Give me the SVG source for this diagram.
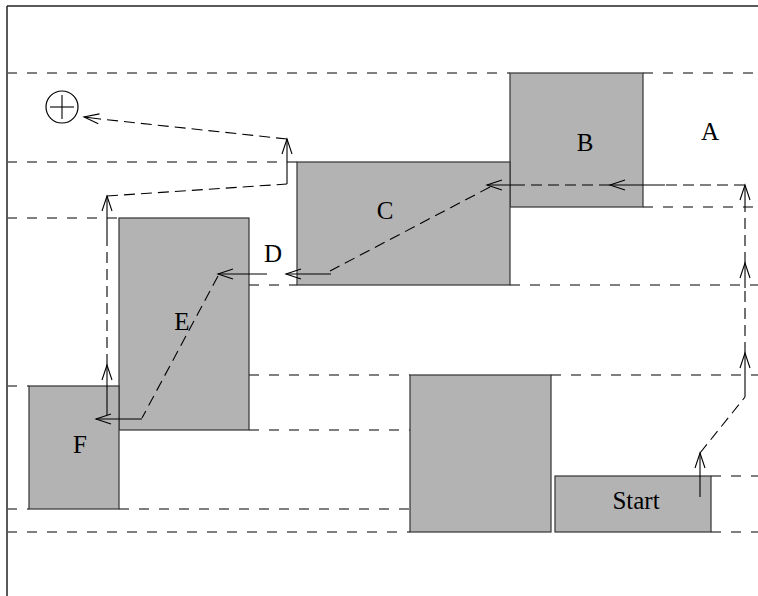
<svg xmlns="http://www.w3.org/2000/svg" width="758" height="596" viewBox="0 0 758 596">
<defs>
<marker id="ah" markerUnits="userSpaceOnUse" markerWidth="20" markerHeight="14" viewBox="-17 -7 20 14" refX="0" refY="0" orient="auto" overflow="visible">
<path d="M-15,-5 L0,0 L-15,5" fill="none" stroke="#000" stroke-width="1.1"/>
</marker>
<style>
.frame{stroke:#222;stroke-width:1.5;fill:none}
.guide{stroke:#555;stroke-width:1.3;stroke-dasharray:10 10;fill:none}
.box{fill:#b3b3b3;stroke:#333;stroke-width:1.2}
.lbl{font-family:"Liberation Serif","Times New Roman",serif;font-size:25px;text-anchor:middle;fill:#000}
.sol{stroke:#000;stroke-width:1.1;fill:none}
.arr{stroke:#000;stroke-width:1.1;fill:none;marker-end:url(#ah)}
.dsh{stroke:#000;stroke-width:1.1;fill:none;stroke-dasharray:11 6}
</style>
</defs>
<rect width="758" height="596" fill="#fff"/>
<g id="frame">
<line class="frame" x1="7" y1="6" x2="758" y2="6"/>
<line class="frame" x1="7" y1="6" x2="7" y2="596"/>
</g>
<g id="guides">
<line class="guide" x1="7" y1="73" x2="510" y2="73"/>
<line class="guide" x1="643" y1="73" x2="758" y2="73"/>
<line class="guide" x1="7" y1="162" x2="297" y2="162"/>
<line class="guide" x1="643" y1="207" x2="758" y2="207"/>
<line class="guide" x1="7" y1="218" x2="119" y2="218"/>
<line class="guide" x1="249" y1="285" x2="297" y2="285"/>
<line class="guide" x1="510" y1="285" x2="758" y2="285"/>
<line class="guide" x1="249" y1="375" x2="410" y2="375"/>
<line class="guide" x1="551" y1="375" x2="758" y2="375"/>
<line class="guide" x1="7" y1="386" x2="29" y2="386"/>
<line class="guide" x1="249" y1="430" x2="410" y2="430"/>
<line class="guide" x1="711" y1="476" x2="758" y2="476"/>
<line class="guide" x1="7" y1="509" x2="29" y2="509"/>
<line class="guide" x1="119" y1="509" x2="410" y2="509"/>
<line class="guide" x1="7" y1="532" x2="410" y2="532"/>
<line class="guide" x1="711" y1="532" x2="758" y2="532"/>
</g>
<g id="node-B"><rect class="box" x="510" y="73" width="133" height="134"/><text class="lbl" x="585" y="151">B</text></g>
<g id="node-C"><rect class="box" x="297" y="162" width="213" height="123"/><text class="lbl" x="385" y="219">C</text></g>
<g id="node-E"><rect class="box" x="119" y="218" width="130" height="212"/><text class="lbl" x="182" y="330">E</text></g>
<g id="node-F"><rect class="box" x="29" y="386" width="90" height="123"/><text class="lbl" x="80" y="453">F</text></g>
<g id="node-blank"><rect class="box" x="410" y="375" width="141" height="157"/></g>
<g id="node-Start"><rect class="box" x="555" y="476" width="156" height="56"/><text class="lbl" x="636" y="509">Start</text></g>
<g id="node-A"><text class="lbl" x="710" y="140">A</text></g>
<g id="node-D"><text class="lbl" x="273" y="262">D</text></g>
<g id="node-target">
<circle cx="62" cy="107" r="16" fill="none" stroke="#000" stroke-width="1.2"/>
<line class="sol" x1="50" y1="107" x2="74" y2="107"/>
<line class="sol" x1="62" y1="95" x2="62" y2="119"/>
</g>
<g id="connectors">
<line class="arr" x1="700" y1="497" x2="700" y2="453"/>
<line class="dsh" x1="700" y1="453" x2="745" y2="397"/>
<line class="arr" x1="745" y1="397" x2="745" y2="353"/>
<line class="dsh" x1="745" y1="353" x2="745" y2="288"/>
<line class="arr" x1="745" y1="288" x2="745" y2="263"/>
<line class="dsh" x1="745" y1="263" x2="745" y2="203"/>
<line class="arr" x1="745" y1="203" x2="745" y2="185"/>
<line class="dsh" x1="745" y1="185" x2="665" y2="185"/>
<line class="arr" x1="665" y1="185" x2="610" y2="185"/>
<line class="dsh" x1="610" y1="185" x2="522" y2="185"/>
<line class="arr" x1="522" y1="185" x2="487" y2="185"/>
<line class="dsh" x1="490" y1="187" x2="330" y2="271"/>
<line class="arr" x1="331" y1="274" x2="286" y2="274"/>
<line class="arr" x1="267" y1="274" x2="218" y2="274"/>
<line class="dsh" x1="218" y1="276" x2="142" y2="418"/>
<line class="arr" x1="142" y1="419" x2="96" y2="419"/>
<line class="arr" x1="107" y1="415" x2="107" y2="365"/>
<line class="dsh" x1="107" y1="365" x2="107" y2="235"/>
<line class="arr" x1="107" y1="235" x2="107" y2="196"/>
<line class="dsh" x1="107" y1="196" x2="287" y2="184"/>
<line class="arr" x1="287" y1="184" x2="287" y2="139"/>
<line class="dsh" x1="287" y1="139" x2="100" y2="119"/>
<line class="arr" x1="100" y1="119" x2="84" y2="117"/>
</g>
</svg>
